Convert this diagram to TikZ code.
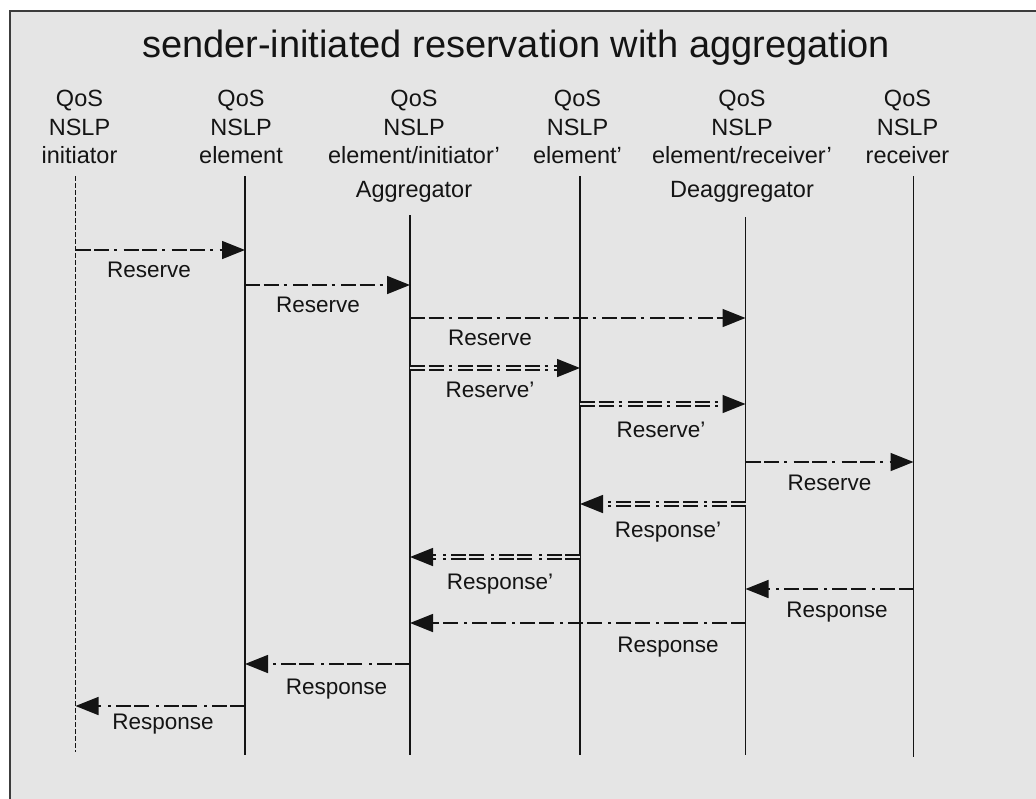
\documentclass[tikz,border=0pt]{standalone}
\usepackage{fontspec}
\setmainfont{Liberation Sans}
\usetikzlibrary{arrows.meta}
\definecolor{panel}{RGB}{229,229,229}
\definecolor{framecol}{RGB}{60,60,60}
\definecolor{ink}{RGB}{20,20,20}

\begin{document}
\begin{tikzpicture}[x=1pt,y=-1pt,
  lifeline/.style={line width=1.6pt, draw=ink},
  initline/.style={lifeline, line width=1.3pt, dash pattern=on 5pt off 2pt},
  msg/.style={draw=ink, line width=1.5pt,
    dash pattern=on 15pt off 3.5pt on 15pt off 5pt on 3pt off 6.5pt,
    -{Triangle[length=23pt,width=18pt]}},
  aggmsg/.style={msg, line width=1.5pt, double=panel, double distance=2.2pt},
  hdr/.style={align=center, inner sep=0pt, anchor=north, text=ink,
    font=\fontsize{23.5}{28.5}\selectfont},
  lbl/.style={inner sep=0pt, anchor=base, text=ink,
    font=\fontsize{22.5}{26}\selectfont},
]
% canvas and grey panel
\clip (0,0) rectangle (1036,798);
\fill[white] (0,0) rectangle (1036,798);
\draw[framecol, line width=2.2pt, fill=panel] (10,11) rectangle (1046,808);

% title
\node[inner sep=0pt, anchor=base, text=ink, font=\fontsize{38}{40}\selectfont]
  (title) at (516,57) {sender-initiated reservation with aggregation};

% participant headers
\node[hdr] (h1) at (79.5,90) {QoS\\NSLP\\initiator};
\node[hdr] (h2) at (241,90) {QoS\\NSLP\\element};
\node[hdr] (h3) at (414,90) {QoS\\NSLP\\element/initiator'\\[5pt]Aggregator};
\node[hdr] (h4) at (577.5,90) {QoS\\NSLP\\element'};
\node[hdr] (h5) at (742,90) {QoS\\NSLP\\element/receiver'\\[5pt]Deaggregator};
\node[hdr] (h6) at (907.5,90) {QoS\\NSLP\\receiver};

% lifelines
\coordinate (a1) at (75.5,176);  \coordinate (z1) at (75.5,752);
\coordinate (a2) at (245,176);   \coordinate (z2) at (245,755);
\coordinate (a3) at (410,215);   \coordinate (z3) at (410,755);
\coordinate (a4) at (580,176);   \coordinate (z4) at (580,755);
\coordinate (a5) at (745.5,217); \coordinate (z5) at (745.5,755);
\coordinate (a6) at (913.5,176); \coordinate (z6) at (913.5,757);
\draw[initline] (a1) -- (z1);
\foreach \i in {2,...,6} \draw[lifeline] (a\i) -- (z\i);

% message rows
\coordinate (m1) at (0,250);
\coordinate (m2) at (0,285);
\coordinate (m3) at (0,318);
\coordinate (m4) at (0,368);
\coordinate (m5) at (0,404);
\coordinate (m6) at (0,462);
\coordinate (m7) at (0,504);
\coordinate (m8) at (0,557);
\coordinate (m9) at (0,589);
\coordinate (m10) at (0,623);
\coordinate (m11) at (0,664);
\coordinate (m12) at (0,706);

% reservation towards the receiver
\draw[msg] (z1 |- m1) -- (z2 |- m1);
\node[lbl] (t1) at (149,277) {Reserve};
\draw[msg] (z2 |- m2) -- (z3 |- m2);
\node[lbl] (t2) at (318,312) {Reserve};
\draw[msg] (z3 |- m3) -- (z5 |- m3);
\node[lbl] (t3) at (490,345) {Reserve};
\draw[aggmsg] (z3 |- m4) -- (z4 |- m4);
\node[lbl] (t4) at (490,397) {Reserve'};
\draw[aggmsg] (z4 |- m5) -- (z5 |- m5);
\node[lbl] (t5) at (661,437) {Reserve'};
\draw[msg] (z5 |- m6) -- (z6 |- m6);
\node[lbl] (t6) at (829.5,490.5) {Reserve};

% responses back to the initiator
\draw[aggmsg] (z5 |- m7) -- (z4 |- m7);
\node[lbl] (t7) at (668,537) {Response'};
\draw[aggmsg] (z4 |- m8) -- (z3 |- m8);
\node[lbl] (t8) at (500,589) {Response'};
\draw[msg] (z6 |- m9) -- (z5 |- m9);
\node[lbl] (t9) at (837,617) {Response};
\draw[msg] (z5 |- m10) -- (z3 |- m10);
\node[lbl] (t10) at (668,652) {Response};
\draw[msg] (z3 |- m11) -- (z2 |- m11);
\node[lbl] (t11) at (336.5,694) {Response};
\draw[msg] (z2 |- m12) -- (z1 |- m12);
\node[lbl] (t12) at (163,729) {Response};
\end{tikzpicture}
\end{document}
